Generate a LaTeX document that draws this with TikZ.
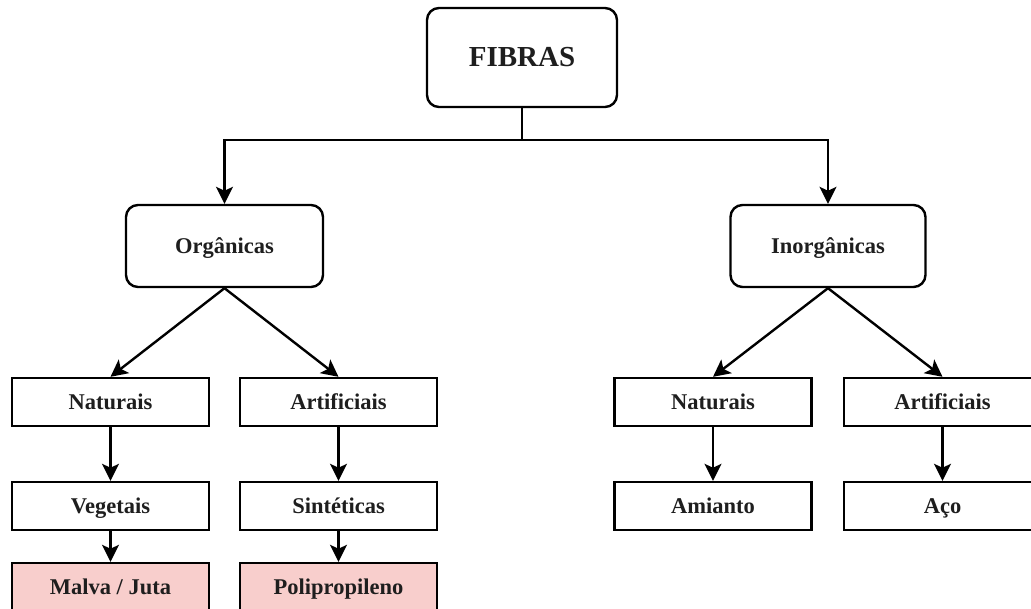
\documentclass[tikz,border=0pt]{standalone}
\usepackage{fontspec}
\setmainfont{Liberation Serif}
\usetikzlibrary{arrows.meta}
\definecolor{pinkfill}{HTML}{F8CECC}
\definecolor{ink}{HTML}{1E1E1E}
\tikzset{
  box/.style={draw=black, line width=2.4pt, fill=white, inner sep=0pt,
    minimum width=197pt, minimum height=48pt, text=ink,
    text height=15pt, text depth=0pt,
    font=\fontsize{22.5}{26}\selectfont\bfseries},
  roundbox/.style={box, rounded corners=12pt, minimum height=82pt},
  leaf/.style={box, fill=pinkfill},
  arr/.style={line width=2.4pt, draw=black,
    -{Stealth[length=17pt,width=17pt,inset=4pt]}},
}
\begin{document}
\begin{tikzpicture}[x=1pt,y=-1pt]
  \useasboundingbox (0,0) rectangle (1031,609);
  \clip (0,0) rectangle (1031,609);
  \fill[white] (0,0) rectangle (1031,609);

  % root
  \node[roundbox, minimum width=190pt, minimum height=99pt,
        text height=19pt, text depth=0pt,
        font=\fontsize{29}{33}\selectfont\bfseries] (fib) at (522,57.5) {FIBRAS};

  % second level
  \node[roundbox] (org) at (224.5,246) {Orgânicas};
  \node[roundbox, minimum width=195pt] (inorg) at (828,246) {Inorgânicas};

  % third level
  \node[box] (onat) at (110.5,402) {Naturais};
  \node[box] (oart) at (338.5,402) {Artificiais};
  \node[box] (inat) at (713,402) {Naturais};
  \node[box] (iart) at (942.5,402) {Artificiais};

  % fourth level
  \node[box] (veg) at (110.5,506) {Vegetais};
  \node[box] (sint) at (338.5,506) {Sintéticas};
  \node[box] (amia) at (713,506) {Amianto};
  \node[box] (aco) at (942.5,506) {Aço};

  % fifth level
  \node[leaf] (malva) at (110.5,587) {Malva / Juta};
  \node[leaf] (poli) at (338.5,587) {Polipropileno};

  % connectors
  \coordinate (split) at (522,140);
  \draw[arr] (fib.south) -- (split) -| (org.north);
  \draw[arr] (split) -| (inorg.north);

  \draw[arr] (org.south) -- (onat.north);
  \draw[arr] (org.south) -- (oart.north);
  \draw[arr] (inorg.south) -- (inat.north);
  \draw[arr] (inorg.south) -- (iart.north);

  \draw[arr] (onat.south) -- (veg.north);
  \draw[arr] (oart.south) -- (sint.north);
  \draw[arr] (inat.south) -- (amia.north);
  \draw[arr] (iart.south) -- (aco.north);

  \draw[arr] (veg.south) -- (malva.north);
  \draw[arr] (sint.south) -- (poli.north);
\end{tikzpicture}
\end{document}
